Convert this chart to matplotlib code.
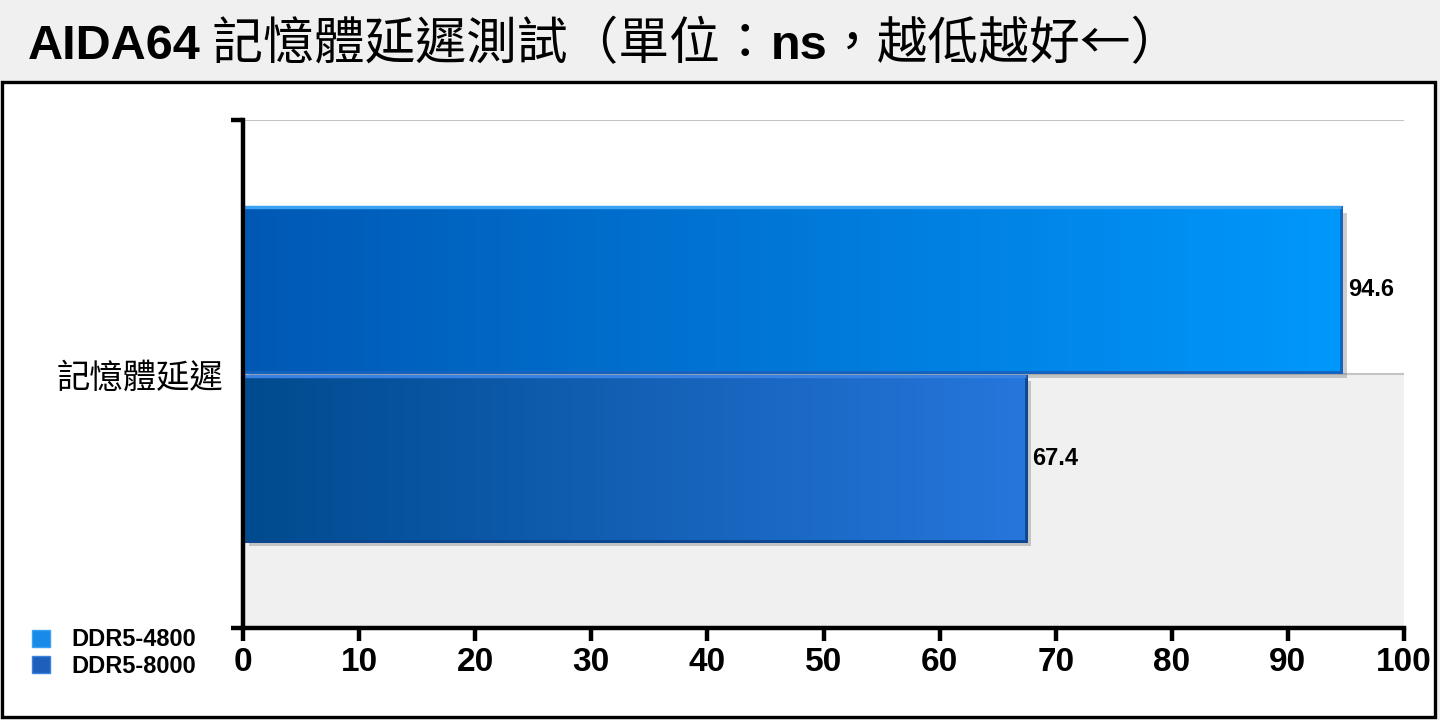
import numpy as np
import matplotlib
matplotlib.use('Agg')
import matplotlib.pyplot as plt
from matplotlib.patches import Rectangle, Patch
from matplotlib.colors import LinearSegmentedColormap
import matplotlib.patheffects as pe

# data
categories = ['記憶體延遲']
series = ['DDR5-4800', 'DDR5-8000']
values = [94.6, 67.4]
xticks = [0, 10, 20, 30, 40, 50, 60, 70, 80, 90, 100]

# style
W, H = 1440, 720
CJK = ['Noto Sans CJK TC', 'DejaVu Sans']
LAT = ['Liberation Sans', 'DejaVu Sans']
grad = [('#0058b4', '#0098fc'), ('#004a8e', '#2676dc')]
edge_dark = ['#1463c0', '#0b4690']
edge_light = ['#3aa2f2', '#3a82e2']
legend_col = ['#1a8ae8', '#1d5fba']

fig = plt.figure(figsize=(W / 100, H / 100), dpi=100)
fig.patch.set_facecolor('#f0f0f0')

# white chart frame below title band
fig.patches.append(Rectangle((2 / W, 3 / H), 1433 / W, 635 / H, transform=fig.transFigure,
                             facecolor='white', edgecolor='black', linewidth=2.4, zorder=0))

ax = fig.add_axes([243 / W, 92 / H, 1161 / W, 508 / H])
ax.set_facecolor('none')
ax.set_zorder(2)

# background band + gridlines
ax.axhspan(0, 0.5, color='#f0f0f0', zorder=0)
for yg in [0.5, 1.0]:
    ax.axhline(yg, color='#c4c4c4', lw=1.5, zorder=1)

bar_h = 0.325
offs = [0.166, -0.166]
for i, (s, v) in enumerate(zip(series, values)):
    b = ax.barh(0.5 + offs[i], v, height=bar_h, color=grad[i][1], edgecolor=edge_dark[i],
                linewidth=2, zorder=3)[0]
    b.set_path_effects([pe.SimplePatchShadow(offset=(4, -4), shadow_rgbFace='#808080', alpha=0.4),
                        pe.Normal()])
    cmap = LinearSegmentedColormap.from_list('g%d' % i, list(grad[i]))
    x0, y0, bw, bh = b.get_x(), b.get_y(), b.get_width(), b.get_height()
    im = ax.imshow(np.linspace(0, 1, 256).reshape(1, -1), cmap=cmap, aspect='auto',
                   extent=(x0, x0 + bw, y0, y0 + bh), zorder=4)
    im.set_clip_path(b)
    # bevel-ish edges
    ax.add_patch(Rectangle((x0, y0), bw, bh, facecolor='none', edgecolor=edge_dark[i], lw=2, zorder=5))
    ax.plot([x0, x0, x0 + bw], [y0, y0 + bh, y0 + bh], color=edge_light[i], lw=2.5, zorder=6,
            solid_capstyle='butt')
    ax.text(v + 0.6, 0.5 + offs[i], '%.1f' % v, va='center', ha='left', fontsize=17,
            fontweight='bold', family=LAT, zorder=7)

ax.set_xlim(0, 100)
ax.set_ylim(0, 1)

for sp in ['top', 'right']:
    ax.spines[sp].set_visible(False)
ax.spines['left'].set_linewidth(3.2)
ax.spines['bottom'].set_linewidth(3.2)
ax.spines['left'].set_zorder(8)
ax.spines['bottom'].set_zorder(8)

ax.set_xticks(xticks)
ax.set_xticklabels([str(t) for t in xticks], fontsize=24, fontweight='bold', family=LAT)
ax.tick_params(axis='x', direction='out', length=9, width=3.2, pad=5)

ax.set_yticks([0, 1])
ax.set_yticklabels(['', ''])
ax.tick_params(axis='y', which='major', direction='out', length=9, width=3.2)
ax.set_yticks([0.5], minor=True)
ax.set_yticklabels(categories, minor=True, fontsize=24, family=CJK)
ax.tick_params(axis='y', which='minor', length=0, pad=14)

# legend
handles = [Patch(facecolor=legend_col[i], edgecolor=edge_light[i]) for i in range(len(series))]
leg = fig.legend(handles, series, loc='lower left', bbox_to_anchor=(32 / W, 42 / H),
                 frameon=False, prop={'family': LAT, 'weight': 'bold', 'size': 17},
                 handlelength=0.75, handleheight=0.75, handletextpad=0.9, labelspacing=0.15,
                 borderpad=0, borderaxespad=0)
leg.set_zorder(3)

# title, built from bold latin and regular CJK pieces
pieces = [('AIDA64', True), (' 記憶體延遲測試（單位：', False), ('ns', True), ('，越低越好←）', False)]
renderer = fig.canvas.get_renderer()
x = 28
for txt, bold in pieces:
    t = fig.text(x / W, 661 / H, txt, fontsize=35 if bold else 36.5, va='baseline', ha='left',
                 fontweight='bold' if bold else 'normal', family=LAT if bold else CJK)
    x += t.get_window_extent(renderer).width

fig.savefig('out.png', dpi=100, facecolor=fig.get_facecolor())
